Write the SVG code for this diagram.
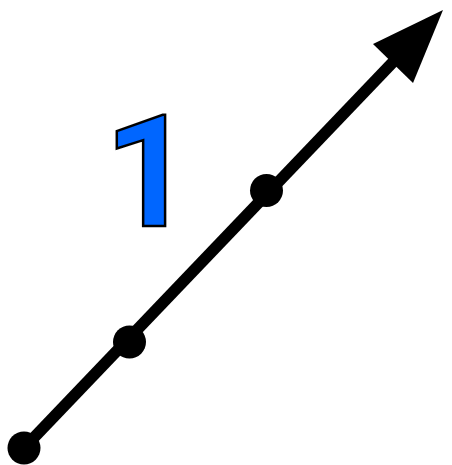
<svg xmlns="http://www.w3.org/2000/svg" width="452" height="465" viewBox="0 0 452 465">
<style>
.dot{fill:#000}
</style>
<rect width="452" height="465" fill="#fff"/>
<g id="connectors">
<line x1="24" y1="448" x2="395" y2="60" stroke="#000" stroke-width="11.5"/>
<polygon points="443,10 413,83 373,44" fill="#000"/>
</g>
<g id="n1"><circle class="dot" cx="24" cy="448" r="16.5"/></g>
<g id="n2"><circle class="dot" cx="129.5" cy="342" r="16.5"/></g>
<g id="n3"><circle class="dot" cx="266.5" cy="190.5" r="16.5"/></g>
<g id="label"><text x="104" y="226" font-family="Roboto, sans-serif" font-weight="bold" font-size="156" fill="#0066ff" stroke="#000" stroke-width="2.5">1</text></g>
</svg>
